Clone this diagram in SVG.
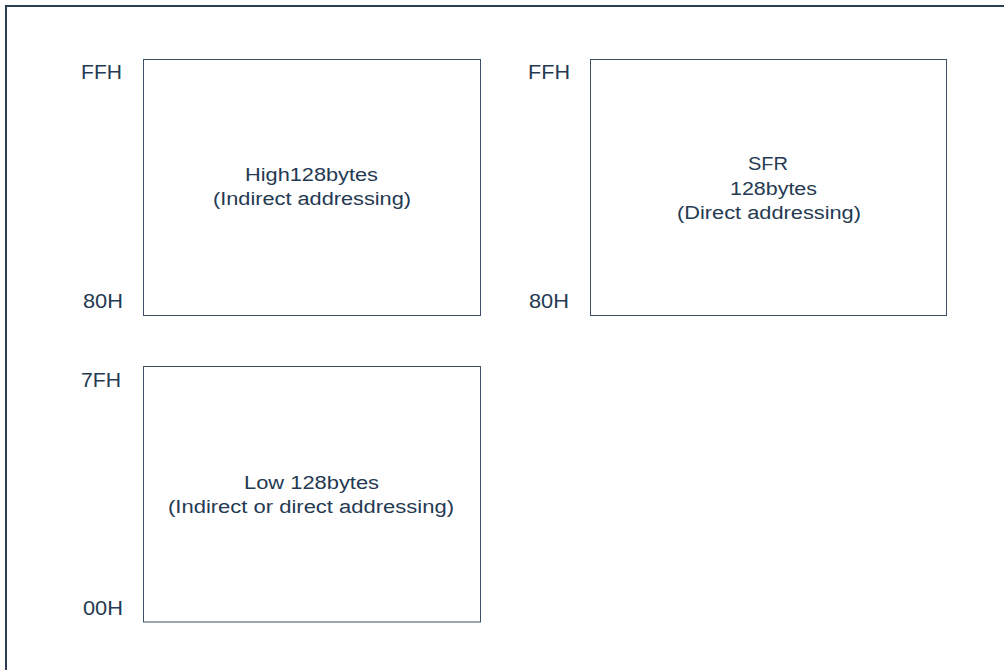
<svg xmlns="http://www.w3.org/2000/svg" width="1004" height="670" viewBox="0 0 1004 670">
<style>
.bg{fill:#ffffff}
.frame{fill:none;stroke:#2a3d52;stroke-width:2}
.box{fill:#ffffff;stroke:#3d5068;stroke-width:1}
.t{font-family:"Liberation Sans",Arial,sans-serif;font-size:18px;fill:#243a52}
.lbl{font-family:"Liberation Sans",Arial,sans-serif;font-size:20px;fill:#243a52}
</style>
<rect class="bg" x="0" y="0" width="1004" height="670"/>
<rect class="frame" x="6" y="6" width="1010" height="690"/>
<g id="connectors"></g>
<g id="node-high">
<rect class="box" x="143.5" y="59.5" width="337" height="256"/>
<text class="t" x="245" y="181" textLength="133" lengthAdjust="spacingAndGlyphs">High128bytes</text>
<text class="t" x="213" y="205" textLength="198" lengthAdjust="spacingAndGlyphs">(Indirect addressing)</text>
<text class="lbl" x="81" y="79" textLength="41" lengthAdjust="spacingAndGlyphs">FFH</text>
<text class="lbl" x="83" y="308" textLength="40" lengthAdjust="spacingAndGlyphs">80H</text>
</g>
<g id="node-sfr">
<rect class="box" x="590.5" y="59.5" width="356" height="256"/>
<text class="t" x="748" y="170" textLength="40" lengthAdjust="spacingAndGlyphs">SFR</text>
<text class="t" x="730" y="195" textLength="87" lengthAdjust="spacingAndGlyphs">128bytes</text>
<text class="t" x="677" y="219" textLength="184" lengthAdjust="spacingAndGlyphs">(Direct addressing)</text>
<text class="lbl" x="528" y="79" textLength="42" lengthAdjust="spacingAndGlyphs">FFH</text>
<text class="lbl" x="529" y="308" textLength="40" lengthAdjust="spacingAndGlyphs">80H</text>
</g>
<g id="node-low">
<rect class="box" x="143.5" y="366.5" width="337" height="255.5"/>
<text class="t" x="244" y="489" textLength="135" lengthAdjust="spacingAndGlyphs">Low 128bytes</text>
<text class="t" x="168" y="513" textLength="286" lengthAdjust="spacingAndGlyphs">(Indirect or direct addressing)</text>
<text class="lbl" x="81" y="387" textLength="40" lengthAdjust="spacingAndGlyphs">7FH</text>
<text class="lbl" x="83" y="615" textLength="40" lengthAdjust="spacingAndGlyphs">00H</text>
</g>
</svg>
